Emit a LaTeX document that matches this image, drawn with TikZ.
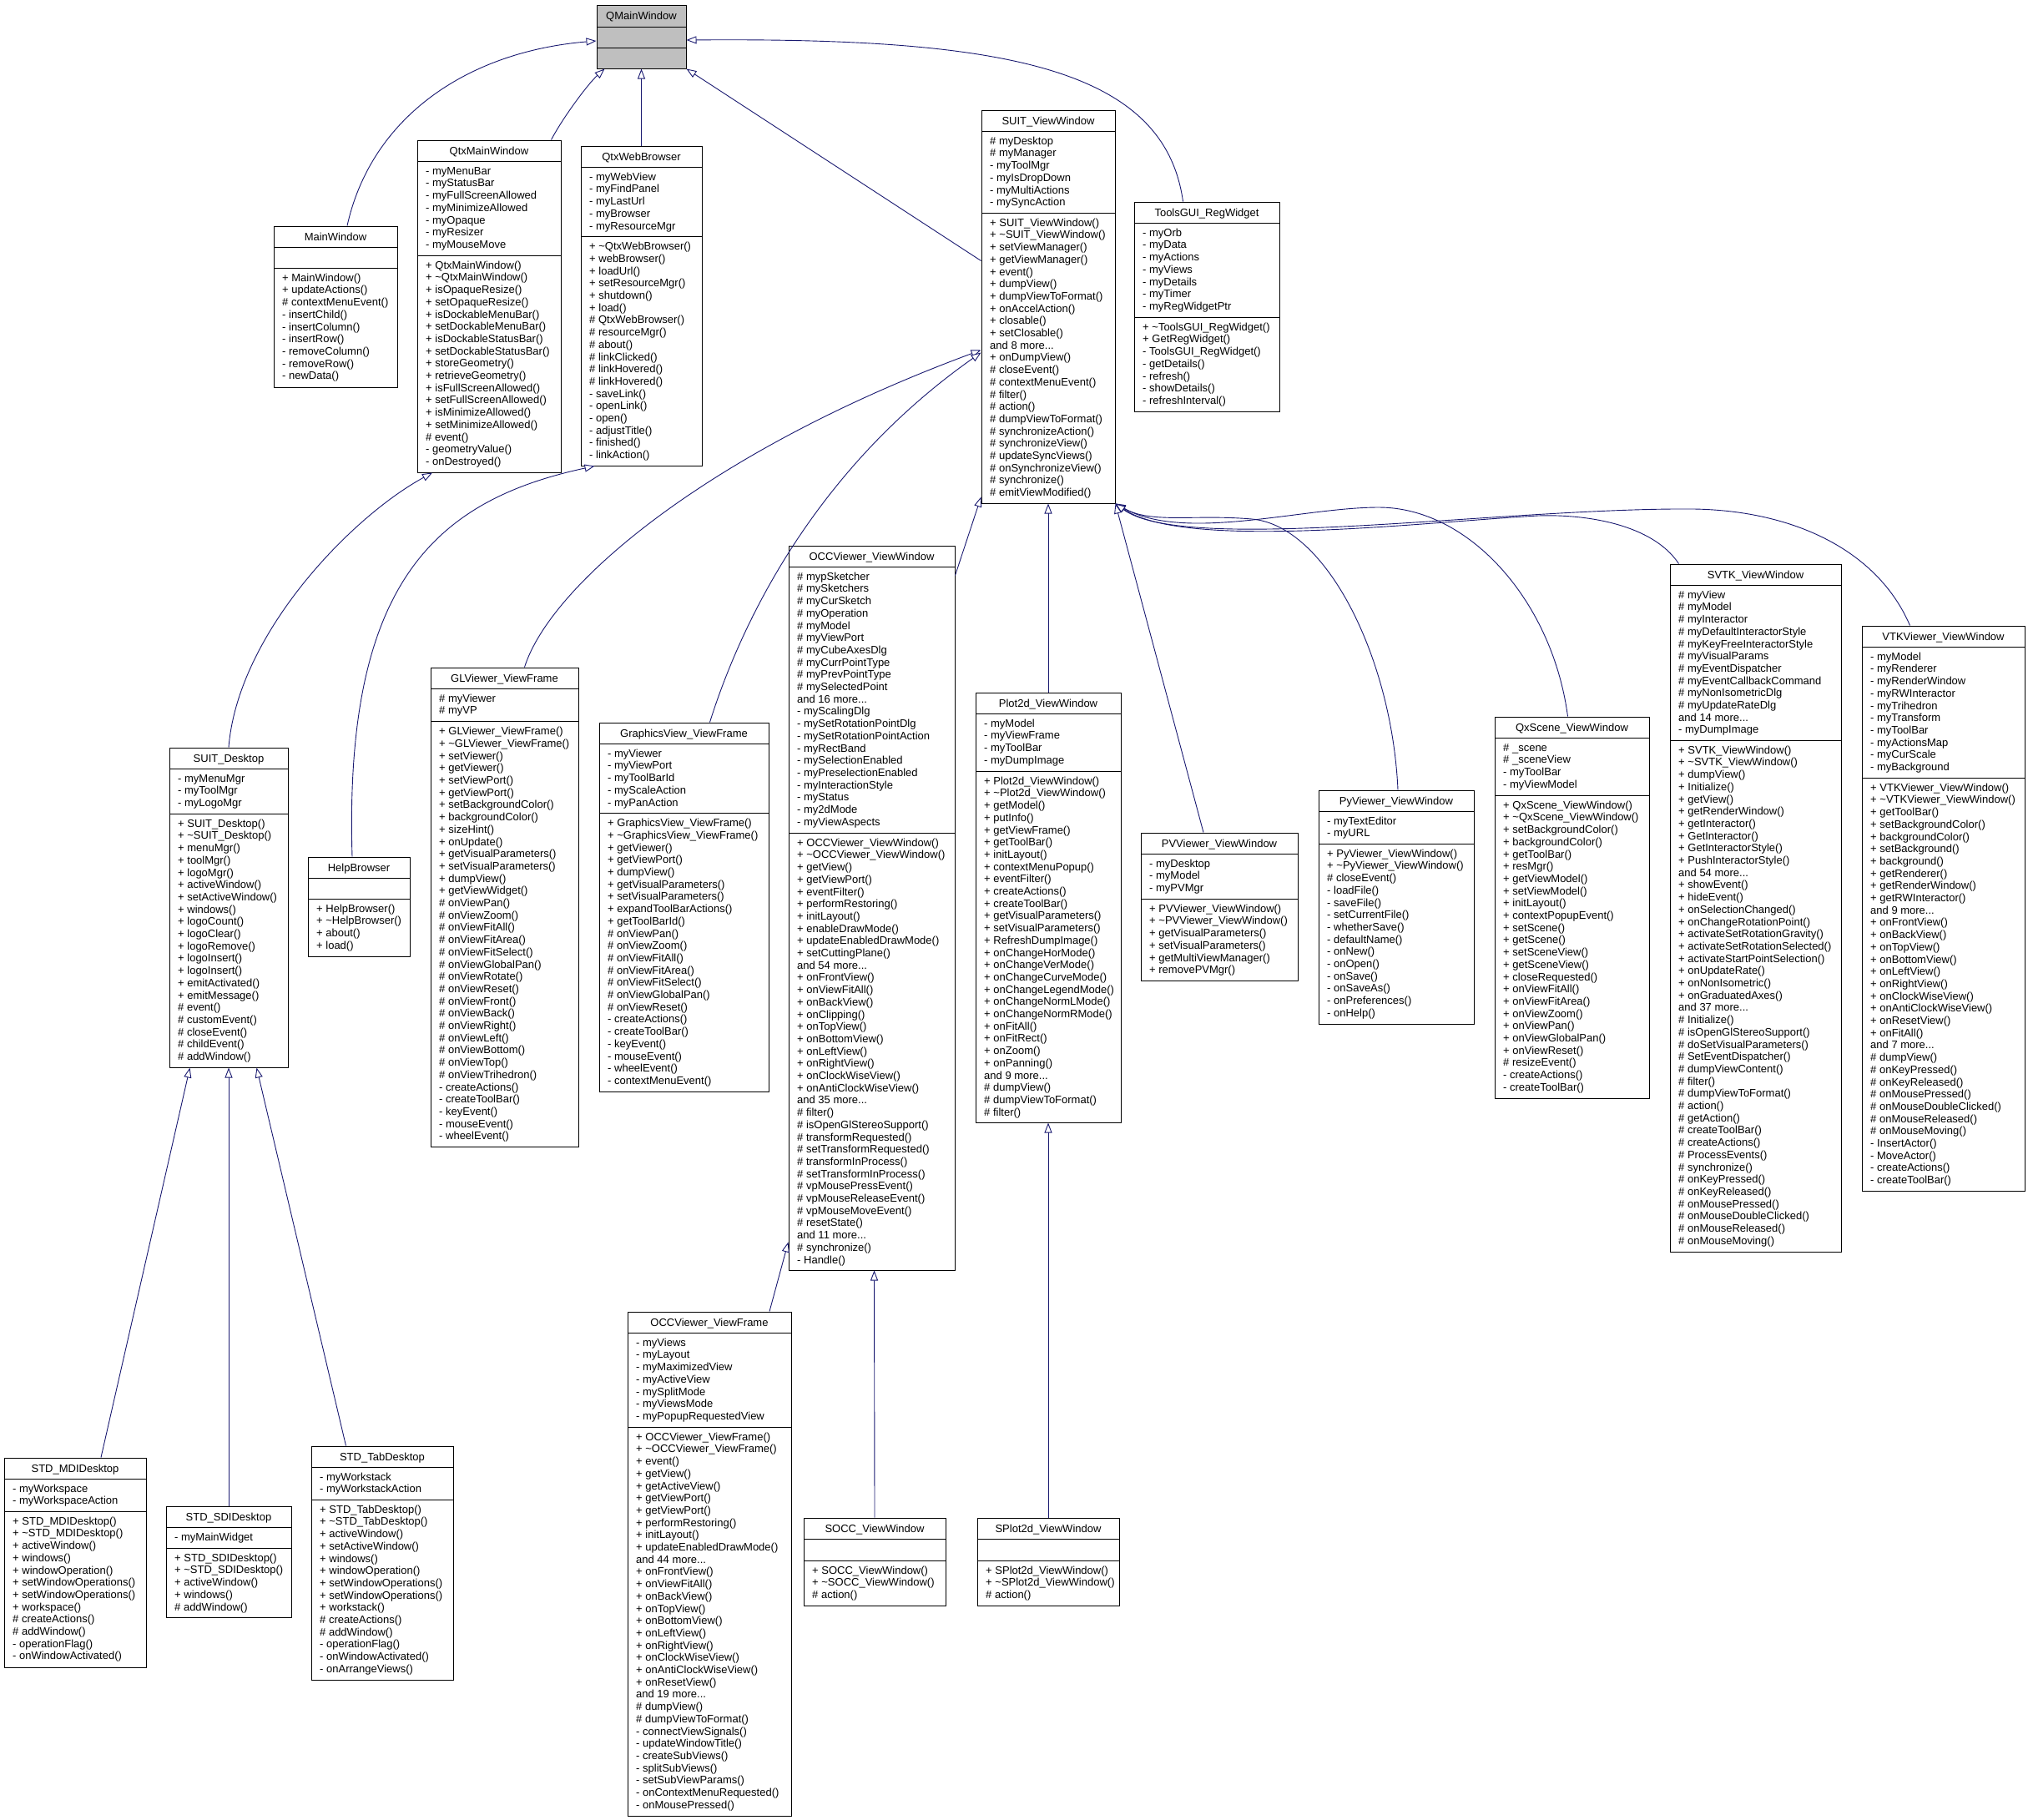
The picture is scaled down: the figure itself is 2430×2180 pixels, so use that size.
\documentclass[tikz,border=0pt]{standalone}
\usepackage{fontspec}
\setmainfont{Liberation Sans}
\usetikzlibrary{arrows.meta,fit}

\definecolor{edgeblue}{RGB}{25,25,112}
\definecolor{headgray}{RGB}{191,191,191}

% class box: [fill] name, left, top, right, bottom, first rule, second rule, title
\newcommand{\umlclass}[9][white]{%
  \node[classframe, fill=#1, fit={(#3,#4) (#5,#6)}] (#2) {};
  \draw[rulestyle] (#3,#7) -- (#5,#7) (#3,#8) -- (#5,#8);
  \node[classtitle] (#2-t) at ({(#3+#5)/2},{(#4+#7)/2}) {#9};
  \coordinate (#2-a) at (#3,#7);
  \coordinate (#2-m) at (#3,#8);
}
\newcommand{\umlattrs}[2]{\node[members] (#1-attrs) at (#1-a) {\rule{0pt}{10pt}#2};}
\newcommand{\umlops}[2]{\node[members] (#1-ops) at (#1-m) {\rule{0pt}{10pt}#2};}

\begin{document}
\begin{tikzpicture}[x=1pt, y=-1pt,
    classframe/.style={draw=black, line width=1pt, inner sep=0pt},
    rulestyle/.style={line width=1pt},
    classtitle/.style={font=\fontsize{13}{14.7}\selectfont, inner sep=0pt, text height=9pt, text depth=0pt},
    members/.style={font=\fontsize{13}{14.7}\selectfont, anchor=north west, align=left, inner sep=0pt, xshift=10pt, yshift=-6pt},
    inherit/.style={draw=edgeblue, line width=0.9pt, -{Triangle[length=12pt, width=9pt, fill=white]}}]
  \useasboundingbox (0,0) rectangle (2430,2180);

  % Top level
  \umlclass[headgray]{qmain}{715}{6}{822}{82}{32}{57}{QMainWindow}

  % Direct QMainWindow subclasses
  \umlclass{mainwin}{328}{271}{476}{464}{296}{321}{MainWindow}
  \umlops{mainwin}{+ MainWindow()\\+ updateActions()\\\# contextMenuEvent()\\- insertChild()\\- insertColumn()\\- insertRow()\\- removeColumn()\\- removeRow()\\- newData()}

  \umlclass{qtxmain}{500}{168}{672}{566}{193}{306}{QtxMainWindow}
  \umlattrs{qtxmain}{- myMenuBar\\- myStatusBar\\- myFullScreenAllowed\\- myMinimizeAllowed\\- myOpaque\\- myResizer\\- myMouseMove}
  \umlops{qtxmain}{+ QtxMainWindow()\\+ \textasciitilde QtxMainWindow()\\+ isOpaqueResize()\\+ setOpaqueResize()\\+ isDockableMenuBar()\\+ setDockableMenuBar()\\+ isDockableStatusBar()\\+ setDockableStatusBar()\\+ storeGeometry()\\+ retrieveGeometry()\\+ isFullScreenAllowed()\\+ setFullScreenAllowed()\\+ isMinimizeAllowed()\\+ setMinimizeAllowed()\\\# event()\\- geometryValue()\\- onDestroyed()}

  \umlclass{qtxweb}{696}{175}{841}{558}{200}{283.5}{QtxWebBrowser}
  \umlattrs{qtxweb}{- myWebView\\- myFindPanel\\- myLastUrl\\- myBrowser\\- myResourceMgr}
  \umlops{qtxweb}{+ \textasciitilde QtxWebBrowser()\\+ webBrowser()\\+ loadUrl()\\+ setResourceMgr()\\+ shutdown()\\+ load()\\\# QtxWebBrowser()\\\# resourceMgr()\\\# about()\\\# linkClicked()\\\# linkHovered()\\\# linkHovered()\\- saveLink()\\- openLink()\\- open()\\- adjustTitle()\\- finished()\\- linkAction()}

  \umlclass{suitview}{1176}{132}{1336}{603}{157}{255}{SUIT\_ViewWindow}
  \umlattrs{suitview}{\# myDesktop\\\# myManager\\- myToolMgr\\- myIsDropDown\\- myMultiActions\\- mySyncAction}
  \umlops{suitview}{+ SUIT\_ViewWindow()\\+ \textasciitilde SUIT\_ViewWindow()\\+ setViewManager()\\+ getViewManager()\\+ event()\\+ dumpView()\\+ dumpViewToFormat()\\+ onAccelAction()\\+ closable()\\+ setClosable()\\and 8 more...\\+ onDumpView()\\\# closeEvent()\\\# contextMenuEvent()\\\# filter()\\\# action()\\\# dumpViewToFormat()\\\# synchronizeAction()\\\# synchronizeView()\\\# updateSyncViews()\\\# onSynchronizeView()\\\# synchronize()\\\# emitViewModified()}

  \umlclass{toolsgui}{1359}{242}{1533}{493}{267}{380}{ToolsGUI\_RegWidget}
  \umlattrs{toolsgui}{- myOrb\\- myData\\- myActions\\- myViews\\- myDetails\\- myTimer\\- myRegWidgetPtr}
  \umlops{toolsgui}{+ \textasciitilde ToolsGUI\_RegWidget()\\+ GetRegWidget()\\- ToolsGUI\_RegWidget()\\- getDetails()\\- refresh()\\- showDetails()\\- refreshInterval()}

  % Second level
  \umlclass{suitdesk}{203}{896}{345}{1279}{921}{975}{SUIT\_Desktop}
  \umlattrs{suitdesk}{- myMenuMgr\\- myToolMgr\\- myLogoMgr}
  \umlops{suitdesk}{+ SUIT\_Desktop()\\+ \textasciitilde SUIT\_Desktop()\\+ menuMgr()\\+ toolMgr()\\+ logoMgr()\\+ activeWindow()\\+ setActiveWindow()\\+ windows()\\+ logoCount()\\+ logoClear()\\+ logoRemove()\\+ logoInsert()\\+ logoInsert()\\+ emitActivated()\\+ emitMessage()\\\# event()\\\# customEvent()\\\# closeEvent()\\\# childEvent()\\\# addWindow()}

  \umlclass{helpbr}{369}{1027}{491}{1146}{1052}{1077}{HelpBrowser}
  \umlops{helpbr}{+ HelpBrowser()\\+ \textasciitilde HelpBrowser()\\+ about()\\+ load()}

  \umlclass{glview}{516}{800}{693}{1374}{825}{864.5}{GLViewer\_ViewFrame}
  \umlattrs{glview}{\# myViewer\\\# myVP}
  \umlops{glview}{+ GLViewer\_ViewFrame()\\+ \textasciitilde GLViewer\_ViewFrame()\\+ setViewer()\\+ getViewer()\\+ setViewPort()\\+ getViewPort()\\+ setBackgroundColor()\\+ backgroundColor()\\+ sizeHint()\\+ onUpdate()\\+ getVisualParameters()\\+ setVisualParameters()\\+ dumpView()\\+ getViewWidget()\\\# onViewPan()\\\# onViewZoom()\\\# onViewFitAll()\\\# onViewFitArea()\\\# onViewFitSelect()\\\# onViewGlobalPan()\\\# onViewRotate()\\\# onViewReset()\\\# onViewFront()\\\# onViewBack()\\\# onViewRight()\\\# onViewLeft()\\\# onViewBottom()\\\# onViewTop()\\\# onViewTrihedron()\\- createActions()\\- createToolBar()\\- keyEvent()\\- mouseEvent()\\- wheelEvent()}

  \umlclass{graphview}{718}{866}{921}{1308}{891}{974.5}{GraphicsView\_ViewFrame}
  \umlattrs{graphview}{- myViewer\\- myViewPort\\- myToolBarId\\- myScaleAction\\- myPanAction}
  \umlops{graphview}{+ GraphicsView\_ViewFrame()\\+ \textasciitilde GraphicsView\_ViewFrame()\\+ getViewer()\\+ getViewPort()\\+ dumpView()\\+ getVisualParameters()\\+ setVisualParameters()\\+ expandToolBarActions()\\+ getToolBarId()\\\# onViewPan()\\\# onViewZoom()\\\# onViewFitAll()\\\# onViewFitArea()\\\# onViewFitSelect()\\\# onViewGlobalPan()\\\# onViewReset()\\- createActions()\\- createToolBar()\\- keyEvent()\\- mouseEvent()\\- wheelEvent()\\- contextMenuEvent()}

  \umlclass{occwin}{945}{654}{1144}{1522}{679}{998}{OCCViewer\_ViewWindow}
  \umlattrs{occwin}{\# mypSketcher\\\# mySketchers\\\# myCurSketch\\\# myOperation\\\# myModel\\\# myViewPort\\\# myCubeAxesDlg\\\# myCurrPointType\\\# myPrevPointType\\\# mySelectedPoint\\and 16 more...\\- myScalingDlg\\- mySetRotationPointDlg\\- mySetRotationPointAction\\- myRectBand\\- mySelectionEnabled\\- myPreselectionEnabled\\- myInteractionStyle\\- myStatus\\- my2dMode\\- myViewAspects}
  \umlops{occwin}{+ OCCViewer\_ViewWindow()\\+ \textasciitilde OCCViewer\_ViewWindow()\\+ getView()\\+ getViewPort()\\+ eventFilter()\\+ performRestoring()\\+ initLayout()\\+ enableDrawMode()\\+ updateEnabledDrawMode()\\+ setCuttingPlane()\\and 54 more...\\+ onFrontView()\\+ onViewFitAll()\\+ onBackView()\\+ onClipping()\\+ onTopView()\\+ onBottomView()\\+ onLeftView()\\+ onRightView()\\+ onClockWiseView()\\+ onAntiClockWiseView()\\and 35 more...\\\# filter()\\\# isOpenGlStereoSupport()\\\# transformRequested()\\\# setTransformRequested()\\\# transformInProcess()\\\# setTransformInProcess()\\\# vpMousePressEvent()\\\# vpMouseReleaseEvent()\\\# vpMouseMoveEvent()\\\# resetState()\\and 11 more...\\\# synchronize()\\- Handle()}

  \umlclass{plotwin}{1169}{830}{1343}{1345}{855}{924}{Plot2d\_ViewWindow}
  \umlattrs{plotwin}{- myModel\\- myViewFrame\\- myToolBar\\- myDumpImage}
  \umlops{plotwin}{+ Plot2d\_ViewWindow()\\+ \textasciitilde Plot2d\_ViewWindow()\\+ getModel()\\+ putInfo()\\+ getViewFrame()\\+ getToolBar()\\+ initLayout()\\+ contextMenuPopup()\\+ eventFilter()\\+ createActions()\\+ createToolBar()\\+ getVisualParameters()\\+ setVisualParameters()\\+ RefreshDumpImage()\\+ onChangeHorMode()\\+ onChangeVerMode()\\+ onChangeCurveMode()\\+ onChangeLegendMode()\\+ onChangeNormLMode()\\+ onChangeNormRMode()\\+ onFitAll()\\+ onFitRect()\\+ onZoom()\\+ onPanning()\\and 9 more...\\\# dumpView()\\\# dumpViewToFormat()\\\# filter()}

  \umlclass{pvwin}{1367}{998}{1555}{1175}{1023}{1077}{PVViewer\_ViewWindow}
  \umlattrs{pvwin}{- myDesktop\\- myModel\\- myPVMgr}
  \umlops{pvwin}{+ PVViewer\_ViewWindow()\\+ \textasciitilde PVViewer\_ViewWindow()\\+ getVisualParameters()\\+ setVisualParameters()\\+ getMultiViewManager()\\+ removePVMgr()}

  \umlclass{pywin}{1580}{947}{1766}{1227}{972}{1011}{PyViewer\_ViewWindow}
  \umlattrs{pywin}{- myTextEditor\\- myURL}
  \umlops{pywin}{+ PyViewer\_ViewWindow()\\+ \textasciitilde PyViewer\_ViewWindow()\\\# closeEvent()\\- loadFile()\\- saveFile()\\- setCurrentFile()\\- whetherSave()\\- defaultName()\\- onNew()\\- onOpen()\\- onSave()\\- onSaveAs()\\- onPreferences()\\- onHelp()}

  \umlclass{qxwin}{1791}{859}{1976}{1316}{884}{953}{QxScene\_ViewWindow}
  \umlattrs{qxwin}{\# \_scene\\\# \_sceneView\\- myToolBar\\- myViewModel}
  \umlops{qxwin}{+ QxScene\_ViewWindow()\\+ \textasciitilde QxScene\_ViewWindow()\\+ setBackgroundColor()\\+ backgroundColor()\\+ getToolBar()\\+ resMgr()\\+ getViewModel()\\+ setViewModel()\\+ initLayout()\\+ contextPopupEvent()\\+ setScene()\\+ getScene()\\+ setSceneView()\\+ getSceneView()\\+ closeRequested()\\+ onViewFitAll()\\+ onViewFitArea()\\+ onViewZoom()\\+ onViewPan()\\+ onViewGlobalPan()\\+ onViewReset()\\\# resizeEvent()\\- createActions()\\- createToolBar()}

  \umlclass{svtkwin}{2001}{676}{2206}{1500}{701}{887}{SVTK\_ViewWindow}
  \umlattrs{svtkwin}{\# myView\\\# myModel\\\# myInteractor\\\# myDefaultInteractorStyle\\\# myKeyFreeInteractorStyle\\\# myVisualParams\\\# myEventDispatcher\\\# myEventCallbackCommand\\\# myNonIsometricDlg\\\# myUpdateRateDlg\\and 14 more...\\- myDumpImage}
  \umlops{svtkwin}{+ SVTK\_ViewWindow()\\+ \textasciitilde SVTK\_ViewWindow()\\+ dumpView()\\+ Initialize()\\+ getView()\\+ getRenderWindow()\\+ getInteractor()\\+ GetInteractor()\\+ GetInteractorStyle()\\+ PushInteractorStyle()\\and 54 more...\\+ showEvent()\\+ hideEvent()\\+ onSelectionChanged()\\+ onChangeRotationPoint()\\+ activateSetRotationGravity()\\+ activateSetRotationSelected()\\+ activateStartPointSelection()\\+ onUpdateRate()\\+ onNonIsometric()\\+ onGraduatedAxes()\\and 37 more...\\\# Initialize()\\\# isOpenGlStereoSupport()\\\# doSetVisualParameters()\\\# SetEventDispatcher()\\\# dumpViewContent()\\\# filter()\\\# dumpViewToFormat()\\\# action()\\\# getAction()\\\# createToolBar()\\\# createActions()\\\# ProcessEvents()\\\# synchronize()\\\# onKeyPressed()\\\# onKeyReleased()\\\# onMousePressed()\\\# onMouseDoubleClicked()\\\# onMouseReleased()\\\# onMouseMoving()}

  \umlclass{vtkwin}{2231}{750}{2426}{1427}{775}{932}{VTKViewer\_ViewWindow}
  \umlattrs{vtkwin}{- myModel\\- myRenderer\\- myRenderWindow\\- myRWInteractor\\- myTrihedron\\- myTransform\\- myToolBar\\- myActionsMap\\- myCurScale\\- myBackground}
  \umlops{vtkwin}{+ VTKViewer\_ViewWindow()\\+ \textasciitilde VTKViewer\_ViewWindow()\\+ getToolBar()\\+ setBackgroundColor()\\+ backgroundColor()\\+ setBackground()\\+ background()\\+ getRenderer()\\+ getRenderWindow()\\+ getRWInteractor()\\and 9 more...\\+ onFrontView()\\+ onBackView()\\+ onTopView()\\+ onBottomView()\\+ onLeftView()\\+ onRightView()\\+ onClockWiseView()\\+ onAntiClockWiseView()\\+ onResetView()\\+ onFitAll()\\and 7 more...\\\# dumpView()\\\# onKeyPressed()\\\# onKeyReleased()\\\# onMousePressed()\\\# onMouseDoubleClicked()\\\# onMouseReleased()\\\# onMouseMoving()\\- InsertActor()\\- MoveActor()\\- createActions()\\- createToolBar()}

  % Third level
  \umlclass{mdidesk}{5}{1747}{175}{1998}{1772}{1811}{STD\_MDIDesktop}
  \umlattrs{mdidesk}{- myWorkspace\\- myWorkspaceAction}
  \umlops{mdidesk}{+ STD\_MDIDesktop()\\+ \textasciitilde STD\_MDIDesktop()\\+ activeWindow()\\+ windows()\\+ windowOperation()\\+ setWindowOperations()\\+ setWindowOperations()\\+ workspace()\\\# createActions()\\\# addWindow()\\- operationFlag()\\- onWindowActivated()}

  \umlclass{sdidesk}{199}{1805}{349}{1938}{1830}{1855}{STD\_SDIDesktop}
  \umlattrs{sdidesk}{- myMainWidget}
  \umlops{sdidesk}{+ STD\_SDIDesktop()\\+ \textasciitilde STD\_SDIDesktop()\\+ activeWindow()\\+ windows()\\\# addWindow()}

  \umlclass{tabdesk}{373}{1733}{543}{2013}{1758}{1797}{STD\_TabDesktop}
  \umlattrs{tabdesk}{- myWorkstack\\- myWorkstackAction}
  \umlops{tabdesk}{+ STD\_TabDesktop()\\+ \textasciitilde STD\_TabDesktop()\\+ activeWindow()\\+ setActiveWindow()\\+ windows()\\+ windowOperation()\\+ setWindowOperations()\\+ setWindowOperations()\\+ workstack()\\\# createActions()\\\# addWindow()\\- operationFlag()\\- onWindowActivated()\\- onArrangeViews()}

  \umlclass{occframe}{752}{1572}{948}{2176}{1597}{1710}{OCCViewer\_ViewFrame}
  \umlattrs{occframe}{- myViews\\- myLayout\\- myMaximizedView\\- myActiveView\\- mySplitMode\\- myViewsMode\\- myPopupRequestedView}
  \umlops{occframe}{+ OCCViewer\_ViewFrame()\\+ \textasciitilde OCCViewer\_ViewFrame()\\+ event()\\+ getView()\\+ getActiveView()\\+ getViewPort()\\+ getViewPort()\\+ performRestoring()\\+ initLayout()\\+ updateEnabledDrawMode()\\and 44 more...\\+ onFrontView()\\+ onViewFitAll()\\+ onBackView()\\+ onTopView()\\+ onBottomView()\\+ onLeftView()\\+ onRightView()\\+ onClockWiseView()\\+ onAntiClockWiseView()\\+ onResetView()\\and 19 more...\\\# dumpView()\\\# dumpViewToFormat()\\- connectViewSignals()\\- updateWindowTitle()\\- createSubViews()\\- splitSubViews()\\- setSubViewParams()\\- onContextMenuRequested()\\- onMousePressed()}

  \umlclass{soccwin}{963}{1819}{1133}{1924}{1844}{1870}{SOCC\_ViewWindow}
  \umlops{soccwin}{+ SOCC\_ViewWindow()\\+ \textasciitilde SOCC\_ViewWindow()\\\# action()}

  \umlclass{splotwin}{1171}{1819}{1341}{1924}{1844}{1870}{SPlot2d\_ViewWindow}
  \umlops{splotwin}{+ SPlot2d\_ViewWindow()\\+ \textasciitilde SPlot2d\_ViewWindow()\\\# action()}

  % Inheritance to QMainWindow
  \draw[inherit] ([xshift=14pt]mainwin.north) .. controls (445,140) and (560,62) .. ([yshift=-5pt]qmain.west);
  \draw[inherit] ([xshift=-12pt]qtxmain.north east) .. controls (675,140) and (705,100) .. ([xshift=10pt]qmain.south west);
  \draw[inherit] (qtxweb.north) -- (qmain.south);
  \draw[inherit] ([yshift=55pt]suitview.west) -- (qmain.south east);
  \draw[inherit] ([xshift=59pt]toolsgui.north west) .. controls (1395,80) and (1200,45) .. ([yshift=-4pt]qmain.east);

  % Inheritance to QtxMainWindow and QtxWebBrowser
  \draw[inherit] (suitdesk.north) .. controls (285,760) and (420,620) .. ([xshift=-68pt]qtxmain.south);
  \draw[inherit] ([xshift=-8pt]helpbr.north) .. controls (412,700) and (520,600) .. ([xshift=17pt]qtxweb.south west);

  % Inheritance to SUIT_ViewWindow
  \draw[inherit] ([xshift=24pt]glview.north) .. controls (660,700) and (850,540) .. ([yshift=-52pt]suitview.west);
  \draw[inherit] ([xshift=31pt]graphview.north) .. controls (890,740) and (980,560) .. ([yshift=-55pt]suitview.west);
  \draw[inherit] ([yshift=-36pt]occwin.north east) -- ([yshift=8pt]suitview.south west);
  \draw[inherit] (plotwin.north) -- (suitview.south);
  \draw[inherit] ([xshift=-19pt]pvwin.north) -- (suitview.south east);
  \draw[inherit] ([xshift=2pt]pywin.north) .. controls (1668,790) and (1590,630) .. (1500,622)
    .. controls (1430,616) and (1380,628) .. (suitview.south east);
  \draw[inherit] ([xshift=-5pt]qxwin.north) .. controls (1860,720) and (1760,608) .. (1652,608)
    .. controls (1560,608) and (1420,650) .. (suitview.south east);
  \draw[inherit] ([xshift=11pt]svtkwin.north west) .. controls (1980,628) and (1900,616) .. (1843,618)
    .. controls (1700,626) and (1420,660) .. (suitview.south east);
  \draw[inherit] ([xshift=58pt]vtkwin.north west) .. controls (2250,660) and (2150,612) .. (2030,610)
    .. controls (1800,608) and (1420,665) .. (suitview.south east);

  % Third level inheritance
  \draw[inherit] ([xshift=72pt]occframe.north) -- ([yshift=34pt]occwin.south west);
  \draw[inherit] (soccwin.north) -- ([xshift=3pt]occwin.south);
  \draw[inherit] (splotwin.north) -- (plotwin.south);
  \draw[inherit] ([xshift=31pt]mdidesk.north) -- ([xshift=25pt]suitdesk.south west);
  \draw[inherit] (sdidesk.north) -- (suitdesk.south);
  \draw[inherit] ([xshift=42pt]tabdesk.north west) -- ([xshift=105pt]suitdesk.south west);
\end{tikzpicture}
\end{document}
